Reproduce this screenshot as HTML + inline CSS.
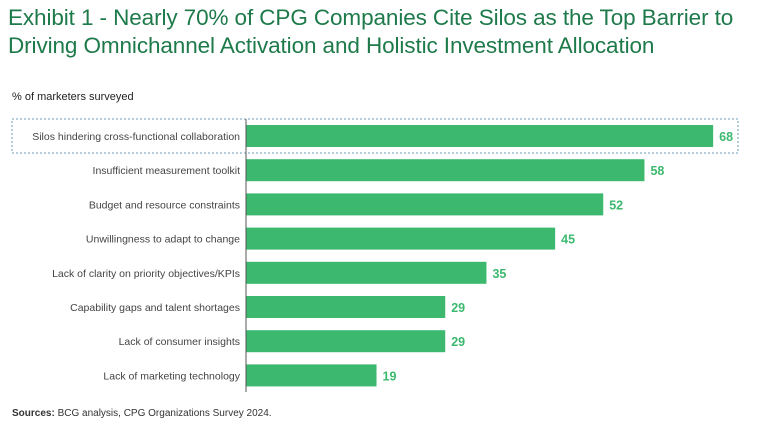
<!DOCTYPE html>
<html><head><meta charset="utf-8"><style>
body{margin:0;width:768px;height:434px;background:#fff;font-family:"Liberation Sans",sans-serif;overflow:hidden;position:relative}
.title{position:absolute;left:8px;top:4px;font-size:22.5px;line-height:28px;color:#1e7a4a;letter-spacing:-0.1px;white-space:nowrap}
.sub{position:absolute;left:12px;top:91px;font-size:11px;color:#222}
.src{position:absolute;left:12px;top:408px;font-size:10px;color:#333}
</style></head><body>
<div class="title">Exhibit 1 - Nearly 70% of CPG Companies Cite Silos as the Top Barrier to<br>Driving Omnichannel Activation and Holistic Investment Allocation</div>
<div class="sub">% of marketers surveyed</div>
<svg id="chart" width="768" height="434" style="position:absolute;left:0;top:0"></svg>
<div class="src"><b>Sources:</b> BCG analysis, CPG Organizations Survey 2024.</div>
<script>
const categories=["Silos hindering cross-functional collaboration","Insufficient measurement toolkit","Budget and resource constraints","Unwillingness to adapt to change","Lack of clarity on priority objectives/KPIs","Capability gaps and talent shortages","Lack of consumer insights","Lack of marketing technology"];
const values=[68,58,52,45,35,29,29,19];
const NS="http://www.w3.org/2000/svg";
const svg=document.getElementById('chart');
const x0=246,scale=6.87,y0=136,step=34.2,bh=22;
function xs(v){return x0+v*scale;}
function yc(i){return y0+i*step;}
function mk(t,a){const e=document.createElementNS(NS,t);for(const k in a)e.setAttribute(k,a[k]);svg.appendChild(e);return e;}
const box=mk('rect',{x:12,y:119,width:726,height:34,fill:'none',stroke:'#6d9cb8','stroke-dasharray':'2,2','stroke-width':1});


categories.forEach((c,i)=>{
  const r=mk('rect',{x:x0,y:yc(i)-bh/2,width:xs(values[i])-x0,height:bh,fill:'#3cb96f'});
  
  
  const l=mk('text',{x:x0-6,y:yc(i)+4,'text-anchor':'end','font-size':'10.5',fill:'#444'});
  l.textContent=c;
  
  
  const v=mk('text',{x:xs(values[i])+6,y:yc(i)+5,'font-size':'12.5','font-weight':'bold',fill:'#3cb96f'});
  v.textContent=values[i];
  
  
});
const ax=mk('line',{x1:x0,x2:x0,y1:119,y2:392,stroke:'#555','stroke-width':1});


</script>
</body></html>
